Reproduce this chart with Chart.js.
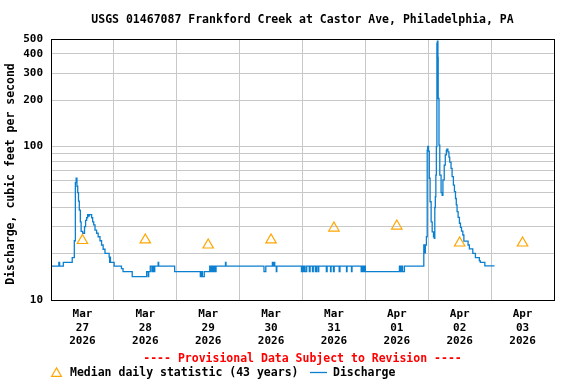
<!DOCTYPE html>
<html>
<head>
<meta charset="utf-8">
<script src="https://cdn.jsdelivr.net/npm/chart.js@4.4.1/dist/chart.umd.min.js"></script>
<style>
    html, body { margin: 0; padding: 0; background: #fff; }
    #wrap { width: 576px; height: 384px; }
</style>
</head>
<body>
<div id="wrap"><canvas id="chartFlow" width="576" height="384"></canvas></div>
<script>
// hours since 2026-03-27 00:00, discharge in cfs (15-min record)
var flowHours = [
    0, 3.0, 3.3, 4.7, 8.1, 8.9, 9.3, 9.6, 9.9, 10.2, 10.5, 10.8, 11.2, 11.5, 12.1, 12.8, 13.2, 13.6,
    14.0, 14.3, 14.6, 15.5, 15.9, 16.3, 16.8, 17.4, 18.0, 18.7, 19.3, 19.9, 20.6, 22.2, 22.4, 22.5, 22.7, 24.1,
    26.9, 27.5, 31.0, 36.5, 37.1, 37.3, 37.9, 38.5, 38.8, 39.3, 39.6, 40.9, 41.1, 47.2, 57.0, 57.4, 57.8, 58.5,
    60.6, 61.0, 61.4, 61.8, 62.2, 62.6, 63.0, 66.6, 66.8, 81.3, 82.0, 84.5, 84.8, 85.2, 85.4, 86.0, 86.2,
    95.6, 95.9, 96.3, 96.6, 97.0, 97.6, 98.6, 98.9, 99.8, 100.1, 100.9, 101.4, 102.0, 102.2,
    105.1, 105.4, 106.7, 106.9, 107.8, 108.1, 110.0, 110.3, 112.8, 113.0, 114.7, 114.9, 118.4, 118.7, 119.2, 119.5, 120.0,
    133.0, 133.4, 133.8, 134.2, 134.9,
    142.3, 142.6, 142.9, 143.3, 143.6, 143.8, 144.1, 144.4, 144.7, 145.1, 145.5, 146.0, 146.3, 146.5, 146.7, 146.9,
    147.1, 147.3, 147.5, 147.7, 147.8, 148.1, 148.4, 148.9, 149.3, 149.6, 150.1, 150.5, 150.9, 151.1, 151.5, 151.9,
    152.2, 152.7, 153.1, 153.6, 154.0, 154.4, 154.7, 155.0, 155.4, 155.9, 156.3, 156.7, 157.2, 157.6, 159.2, 159.7,
    161.0, 162.0, 163.5, 163.9, 165.6, 169.3
];
var flowCfs = [
    16.6, 17.6, 16.6, 17.6, 18.9, 24.3, 58, 62, 55, 50, 44, 38.5, 32.3, 28, 27.2, 30, 33, 34.3,
    36, 35.2, 36, 34.3, 32.3, 30.8, 28.5, 27.2, 25.8, 24.3, 22.8, 21.4, 20.1, 19.0, 17.6, 19.0, 17.6, 16.6,
    16.0, 15.3, 14.2, 15.3, 14.2, 15.3, 16.6, 15.3, 16.6, 15.3, 16.6, 17.6, 16.6, 15.3, 14.2, 15.3, 14.2, 15.3,
    16.6, 15.3, 16.6, 15.3, 16.6, 15.3, 16.6, 17.6, 16.6, 15.3, 16.6, 17.6, 16.6, 17.6, 16.6, 15.3, 16.6,
    15.3, 16.6, 15.3, 16.6, 15.3, 16.6, 15.3, 16.6, 15.3, 16.6, 15.3, 16.6, 15.3, 16.6,
    15.3, 16.6, 15.3, 16.6, 15.3, 16.6, 15.3, 16.6, 15.3, 16.6, 15.3, 16.6, 15.3, 16.6, 15.3, 16.6, 15.3,
    16.6, 15.3, 16.6, 15.3, 16.6,
    22.8, 20.3, 22.8, 25.8, 94.5, 100, 93, 62, 43.6, 32.3, 27.8, 25.8, 25.2, 40, 47, 65,
    99.6, 470, 485, 380, 205, 102, 65, 50, 48, 60.5, 75.5, 88, 94, 96, 92, 85,
    79, 72, 63.6, 56, 50.7, 45.8, 41.6, 37.6, 34.5, 31.6, 29.7, 28.1, 26.5, 24.2, 22.8, 21.5,
    20.1, 18.9, 18.0, 17.6, 16.7, 16.7
];

// median daily statistic, plotted at noon of each day
var medianHours = [12, 36, 60, 84, 108, 132, 156, 180];
var medianCfs   = [24.4, 24.6, 22.8, 24.6, 29.4, 30.3, 23.5, 23.5];

var dayLabels = [
    ['Mar', '27', '2026'], ['Mar', '28', '2026'], ['Mar', '29', '2026'], ['Mar', '30', '2026'],
    ['Mar', '31', '2026'], ['Apr', '01', '2026'], ['Apr', '02', '2026'], ['Apr', '03', '2026']
];
var yTicks    = [10, 20, 30, 40, 50, 60, 70, 80, 90, 100, 200, 300, 400, 500];
var yLabelled = [10, 100, 200, 300, 400, 500];

var chartTitle  = 'USGS 01467087 Frankford Creek at Castor Ave, Philadelphia, PA';
var yTitle      = 'Discharge, cubic feet per second';
var provisional = '---- Provisional Data Subject to Revision ----';
var legendMedian    = 'Median daily statistic (43 years)';
var legendDischarge = 'Discharge';

var MONO = '"DejaVu Sans Mono", "Liberation Mono", monospace';
var BLUE = '#0b7fd0';
var ORANGE = '#ffa500';
var GRID = '#c8c8c8';

function triangle(ctx, x, y, r) {
    ctx.beginPath();
    ctx.moveTo(x, y - r);
    ctx.lineTo(x + r * 0.866, y + r * 0.5);
    ctx.lineTo(x - r * 0.866, y + r * 0.5);
    ctx.closePath();
    ctx.stroke();
}

var frameAndText = {
    id: 'frameAndText',
    afterDraw: function (chart) {
        var ctx = chart.ctx, a = chart.chartArea;
        ctx.save();
        ctx.strokeStyle = '#000';
        ctx.lineWidth = 1;
        ctx.strokeRect(a.left + 0.5, a.top + 0.5, a.right - a.left, a.bottom - a.top);

        var midX = (a.left + a.right) / 2;
        ctx.fillStyle = '#000';
        ctx.font = 'bold 11.5px ' + MONO;
        ctx.textAlign = 'center';
        ctx.textBaseline = 'middle';
        ctx.fillText(chartTitle, midX, 20.5);

        ctx.save();
        ctx.translate(11, 174);
        ctx.rotate(-Math.PI / 2);
        ctx.fillText(yTitle, 0, 0);
        ctx.restore();

        ctx.fillStyle = '#ff0000';
        ctx.fillText(provisional, midX, 359.5);

        ctx.strokeStyle = ORANGE;
        ctx.lineWidth = 1.2;
        triangle(ctx, 56.5, 373.5, 5.6);
        ctx.fillStyle = '#000';
        ctx.textAlign = 'left';
        ctx.fillText(legendMedian, 70, 373.5);
        ctx.strokeStyle = BLUE;
        ctx.lineWidth = 1.3;
        ctx.beginPath();
        ctx.moveTo(310, 372.5);
        ctx.lineTo(327, 372.5);
        ctx.stroke();
        ctx.fillText(legendDischarge, 333, 373.5);
        ctx.restore();
    }
};

var flowPoints = flowHours.map(function (h, i) { return { x: h, y: flowCfs[i] }; });
var medianPoints = medianHours.map(function (h, i) { return { x: h, y: medianCfs[i] }; });

new Chart(document.getElementById('chartFlow').getContext('2d'), {
    type: 'line',
    data: {
        datasets: [{
            label: legendMedian, data: medianPoints,
            showLine: false, pointStyle: 'triangle', pointRadius: 6,
            borderColor: ORANGE, backgroundColor: 'rgba(0,0,0,0)', borderWidth: 1.2
        }, {
            label: legendDischarge, data: flowPoints,
            stepped: true, borderColor: BLUE, borderWidth: 1.3,
            pointRadius: 0, fill: false
        }]
    },
    options: {
        responsive: false,
        animation: false,
        devicePixelRatio: 1,
        layout: { padding: { top: 39, right: 22, bottom: 0, left: 0 } },
        plugins: { legend: { display: false }, title: { display: false }, tooltip: { enabled: false } },
        scales: {
            x: {
                type: 'linear', min: 0, max: 192,
                afterBuildTicks: function (s) {
                    var t = [];
                    for (var h = 0; h <= 192; h += 12) t.push({ value: h });
                    s.ticks = t;
                },
                afterFit: function (s) { s.height = 84; },
                grid: {
                    drawTicks: false,
                    color: function (c) { return c.tick && c.tick.value % 24 === 0 ? GRID : 'rgba(0,0,0,0)'; }
                },
                border: { display: false },
                ticks: {
                    autoSkip: false, maxRotation: 0, padding: 8, color: '#000',
                    font: { family: MONO, size: 11, weight: 'bold', lineHeight: 1.2 },
                    callback: function (v) { return v % 24 === 12 ? dayLabels[(v - 12) / 24] : ''; }
                }
            },
            y: {
                type: 'logarithmic', min: 10, max: 500,
                afterBuildTicks: function (s) {
                    s.ticks = yTicks.map(function (v) { return { value: v }; });
                },
                afterFit: function (s) { s.width = 51; },
                grid: { drawTicks: false, color: GRID },
                border: { display: false },
                ticks: {
                    autoSkip: false, padding: 8, color: '#000',
                    font: { family: MONO, size: 11, weight: 'bold' },
                    callback: function (v) { return yLabelled.indexOf(v) >= 0 ? String(v) : ''; }
                }
            }
        }
    },
    plugins: [frameAndText]
});
</script>
</body>
</html>
